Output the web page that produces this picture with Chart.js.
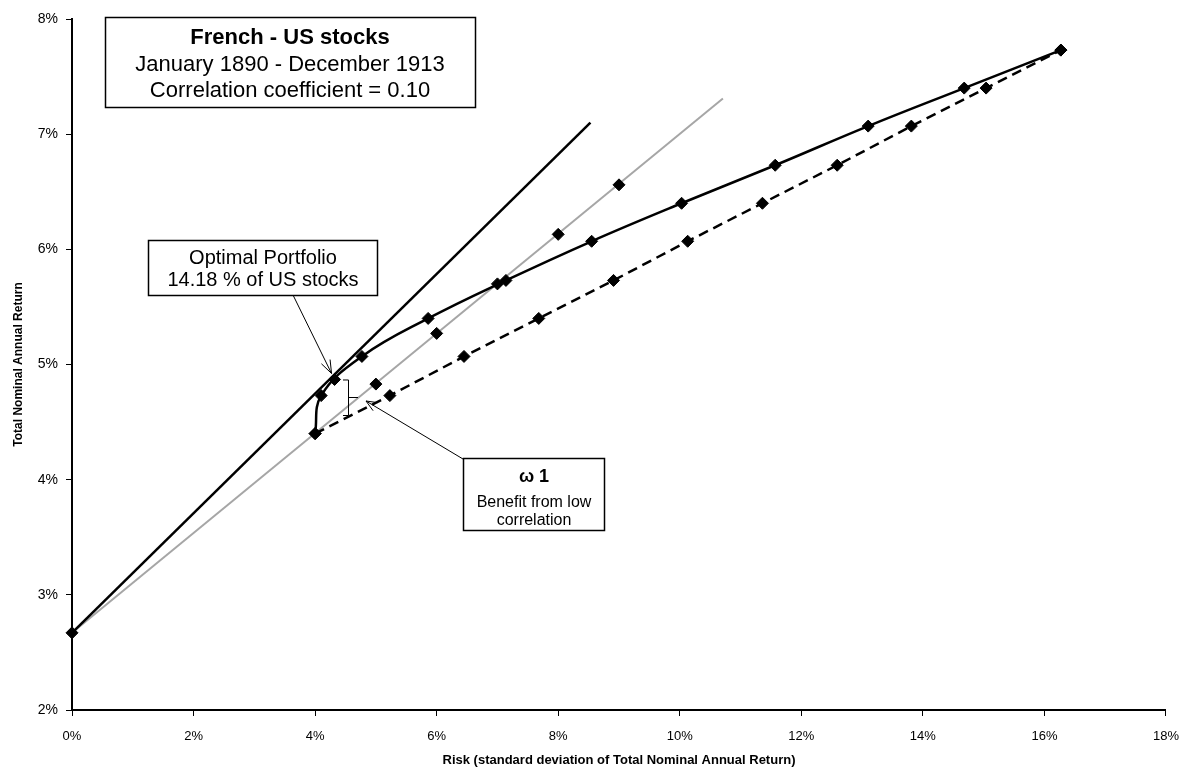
<!DOCTYPE html>
<html><head><meta charset="utf-8">
<script src="https://cdn.jsdelivr.net/npm/chart.js@4.4.1/dist/chart.umd.min.js"></script>
<style>html,body{margin:0;padding:0;background:#fff;}canvas{display:block;}</style>
</head><body>
<canvas id="c" width="1192" height="771"></canvas>
<script>
// ---- data ----
const riskFreeRisk = [0];
const riskFreeReturn = [2.67];
const frontierRisk = [4.00, 4.10, 4.77, 5.86, 7.14, 8.55, 10.03, 11.57, 13.10, 14.68, 16.27];
const frontierReturn = [4.40, 4.73, 5.07, 5.40, 5.73, 6.07, 6.40, 6.73, 7.07, 7.40, 7.73];
const linearRisk = [4.00, 5.23, 6.45, 7.68, 8.91, 10.13, 11.36, 12.59, 13.81, 15.04, 16.27];
const linearReturn = [4.40, 4.73, 5.07, 5.40, 5.73, 6.07, 6.40, 6.73, 7.07, 7.40, 7.73];
const frenchLineRisk = [0, 10.71];
const frenchLineReturn = [2.67, 7.31];
const frenchLeverRisk = [5, 6, 7, 8, 9];
const frenchLeverReturn = [4.83, 5.27, 5.70, 6.13, 6.56];
const cmlRisk = [0, 8.53];
const cmlReturn = [2.67, 7.10];
const optimalRisk = [4.32];
const optimalReturn = [4.87];
const xTickValues = [0, 2, 4, 6, 8, 10, 12, 14, 16, 18];
const yTickValues = [2, 3, 4, 5, 6, 7, 8];

const titleLines = ['French - US stocks', 'January 1890 - December 1913', 'Correlation coefficient = 0.10'];
const optimalLines = ['Optimal Portfolio', '14.18 % of US stocks'];
const omegaLines = ['\u03c9 1', 'Benefit from low', 'correlation'];
const xTitle = 'Risk (standard deviation of Total Nominal Annual Return)';
const yTitle = 'Total Nominal Annual Return';

const FONT = "'Liberation Sans', Arial, sans-serif";
const pts = (xs, ys) => xs.map((x, i) => ({x: x, y: ys[i]}));

const diamond = {pointStyle: 'rectRot', pointRadius: 6, pointBackgroundColor: '#000', pointBorderColor: '#000', pointBorderWidth: 1};

function arrowHead(ctx, fx, fy, tx, ty, len, ang) {
  const a = Math.atan2(ty - fy, tx - fx);
  ctx.beginPath();
  ctx.moveTo(tx - len * Math.cos(a - ang), ty - len * Math.sin(a - ang));
  ctx.lineTo(tx, ty);
  ctx.lineTo(tx - len * Math.cos(a + ang), ty - len * Math.sin(a + ang));
  ctx.stroke();
}
function box(ctx, x, y, w, h) {
  ctx.fillStyle = '#fff';
  ctx.fillRect(x, y, w, h);
  ctx.strokeStyle = '#000';
  ctx.lineWidth = 1.5;
  ctx.strokeRect(x + 0.5, y + 0.5, w, h);
}

const annot = {
  id: 'annot',
  afterDatasetsDraw(chart) {
    const ctx = chart.ctx;
    const sx = chart.scales.x, sy = chart.scales.y;
    const ox = sx.getPixelForValue(optimalRisk[0]);
    const oy = sy.getPixelForValue(optimalReturn[0]);
    ctx.save();
    ctx.fillStyle = '#000';
    ctx.textAlign = 'center';
    ctx.textBaseline = 'middle';

    // title box
    box(ctx, 105, 17, 370, 90);
    ctx.fillStyle = '#000';
    ctx.font = 'bold 22px ' + FONT;
    ctx.fillText(titleLines[0], 290, 38);
    ctx.font = '22px ' + FONT;
    ctx.fillText(titleLines[1], 290, 65);
    ctx.fillText(titleLines[2], 290, 91);

    // optimal portfolio callout
    ctx.strokeStyle = '#000';
    ctx.lineWidth = 1;
    ctx.beginPath();
    ctx.moveTo(293, 295);
    ctx.lineTo(ox - 3, oy - 6);
    ctx.stroke();
    arrowHead(ctx, 293, 295, ox - 3, oy - 6, 14, 0.35);
    box(ctx, 148, 240, 229, 55);
    ctx.fillStyle = '#000';
    ctx.font = '20px ' + FONT;
    ctx.fillText(optimalLines[0], 263, 258);
    ctx.fillText(optimalLines[1], 263, 280);

    // brace
    ctx.lineWidth = 1;
    ctx.beginPath();
    ctx.moveTo(343, oy + 0.5);
    ctx.lineTo(348.5, oy + 0.5);
    ctx.lineTo(348.5, 415.5);
    ctx.lineTo(343, 415.5);
    ctx.moveTo(348.5, 397.5);
    ctx.lineTo(358, 397.5);
    ctx.stroke();

    // omega callout
    ctx.beginPath();
    ctx.moveTo(463, 459);
    ctx.lineTo(366, 401);
    ctx.stroke();
    arrowHead(ctx, 463, 459, 366, 401, 12, 0.4);
    box(ctx, 463, 458, 141, 72);
    ctx.fillStyle = '#000';
    ctx.font = 'bold 18px ' + FONT;
    ctx.fillText(omegaLines[0], 534, 477);
    ctx.font = '16px ' + FONT;
    ctx.fillText(omegaLines[1], 534, 503);
    ctx.fillText(omegaLines[2], 534, 521);
    ctx.restore();
  }
};

new Chart(document.getElementById('c'), {
  type: 'scatter',
  data: {
    datasets: [
      Object.assign({label: 'Optimal', data: pts(optimalRisk, optimalReturn), showLine: false, clip: false}, diamond),
      Object.assign({label: 'Risk free', data: pts(riskFreeRisk, riskFreeReturn), showLine: false, clip: false}, diamond),
      Object.assign({label: 'Efficient frontier', data: pts(frontierRisk, frontierReturn), showLine: true,
        borderColor: '#000', borderWidth: 2.5, tension: 0.4, clip: false}, diamond),
      Object.assign({label: 'Perfect correlation', data: pts(linearRisk, linearReturn), showLine: true,
        borderColor: '#000', borderWidth: 2.5, borderDash: [10, 6], clip: false}, diamond),
      Object.assign({label: 'French leveraged', data: pts(frenchLeverRisk, frenchLeverReturn), showLine: false, clip: false}, diamond),
      {label: 'CML', data: pts(cmlRisk, cmlReturn), showLine: true, borderColor: '#000', borderWidth: 2.5, pointRadius: 0, clip: false},
      {label: 'French line', data: pts(frenchLineRisk, frenchLineReturn), showLine: true, borderColor: '#a6a6a6', borderWidth: 2, pointRadius: 0, clip: false}
    ]
  },
  options: {
    responsive: false,
    animation: false,
    events: [],
    layout: {padding: {top: 19, right: 16, left: 0, bottom: 0}},
    plugins: {legend: {display: false}, tooltip: {enabled: false}},
    scales: {
      x: {
        type: 'linear', min: 0, max: 18,
        afterFit: s => { s.height = 61; },
        afterBuildTicks: s => { s.ticks = xTickValues.map(v => ({value: v})); },
        ticks: {callback: v => v + '%', color: '#000', font: {family: FONT, size: 13}, padding: 13, maxRotation: 0, autoSkip: false},
        grid: {display: true, drawOnChartArea: false, drawTicks: true, tickLength: 6, color: '#000', lineWidth: 1},
        border: {display: true, color: '#000', width: 2},
        title: {display: true, text: xTitle, color: '#000', font: {family: FONT, size: 13, weight: 'bold'}, padding: {top: 0, bottom: 3}}
      },
      y: {
        type: 'linear', min: 2, max: 8,
        afterFit: s => { s.width = 72; },
        afterBuildTicks: s => { s.ticks = yTickValues.map(v => ({value: v})); },
        ticks: {callback: v => v + '%', color: '#000', font: {family: FONT, size: 14}, padding: 8, autoSkip: false},
        grid: {display: true, drawOnChartArea: false, drawTicks: true, tickLength: 6, color: '#000', lineWidth: 1},
        border: {display: true, color: '#000', width: 2},
        title: {display: true, text: yTitle, color: '#000', font: {family: FONT, size: 12, weight: 'bold'}, padding: {top: 11, bottom: 0}}
      }
    }
  },
  plugins: [annot]
});
</script>
</body></html>
